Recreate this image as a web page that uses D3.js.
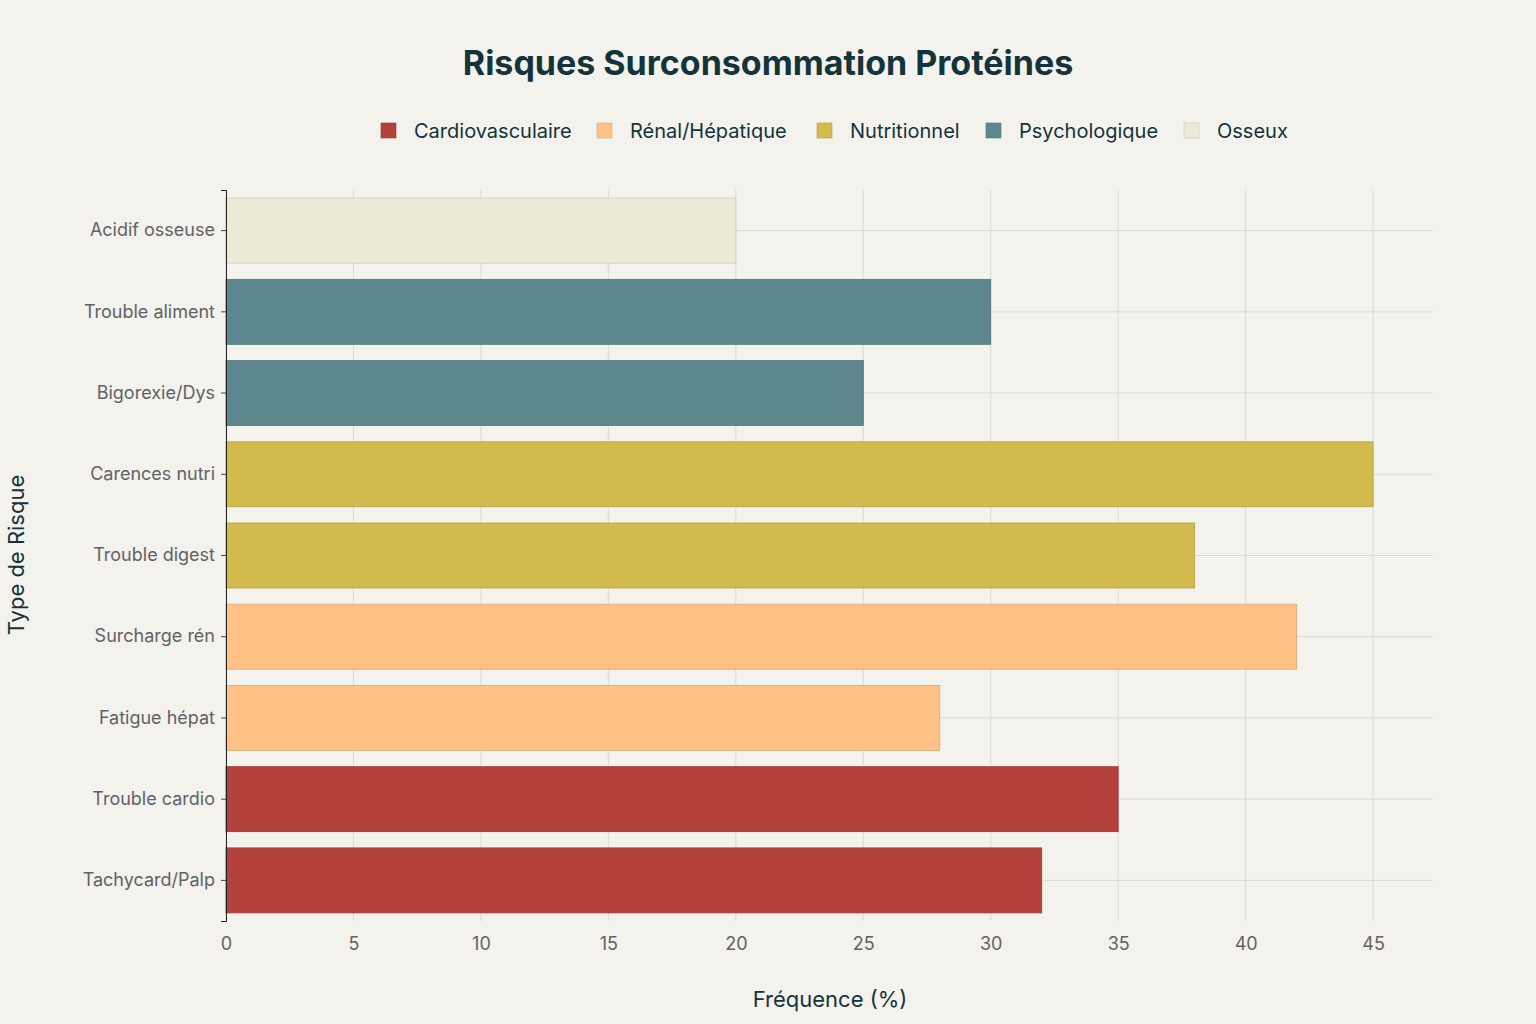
<!DOCTYPE html>
<html><head><meta charset="utf-8">
<script src="https://cdn.jsdelivr.net/npm/d3@7"></script>
<style>body{margin:0;background:#F3F2EC;}svg{display:block;font-family:Inter,"Noto Sans",sans-serif;}</style>
</head><body><svg width="1536" height="1024"></svg>
<script>
// data, bottom to top as in the picture
const categories = ["Tachycard/Palp","Trouble cardio","Fatigue hépat","Surcharge rén","Trouble digest","Carences nutri","Bigorexie/Dys","Trouble aliment","Acidif osseuse"];
const values = [32,35,28,42,38,45,25,30,20];
const groups = ["Cardiovasculaire","Cardiovasculaire","Rénal/Hépatique","Rénal/Hépatique","Nutritionnel","Nutritionnel","Psychologique","Psychologique","Osseux"];
const legendNames = ["Cardiovasculaire","Rénal/Hépatique","Nutritionnel","Psychologique","Osseux"];
const legendColors = ["#B4413C","#FFC185","#D2BA4C","#5D878F","#ECEBD5"];
const xTicks = [0,5,10,15,20,25,30,35,40,45];

var svg = d3.select("svg");
var plotLeft = 226, plotRight = 1433, plotTop = 190, plotBottom = 921;
var x = d3.scaleLinear().domain([0,47.35]).range([plotLeft,plotRight]);
var y = d3.scaleBand().domain(categories.slice().reverse()).range([plotTop,plotBottom]).paddingInner(0.2).paddingOuter(0.1);
var colour = d3.scaleOrdinal().domain(legendNames).range(legendColors);

//grid
svg.append("g").selectAll("line").data(xTicks).enter().append("line")
    .attr("x1",d=>x(d)).attr("x2",d=>x(d)).attr("y1",plotTop).attr("y2",plotBottom)
    .attr("stroke","#DADAD4").attr("stroke-width",1);
svg.append("g").selectAll("line").data(categories).enter().append("line")
    .attr("x1",plotLeft).attr("x2",plotRight)
    .attr("y1",d=>y(d)+y.bandwidth()/2).attr("y2",d=>y(d)+y.bandwidth()/2)
    .attr("stroke","#DADAD4").attr("stroke-width",1);

//bars
svg.append("g").selectAll("rect").data(categories).enter().append("rect")
    .attr("x",x(0)).attr("y",d=>y(d))
    .attr("width",(d,i)=>x(values[i])-x(0)).attr("height",y.bandwidth())
    .attr("fill",(d,i)=>colour(groups[i]))
    .attr("stroke",(d,i)=>d3.color(colour(groups[i])).darker(0.4)).attr("stroke-width",0.8);

//axes
var xa = svg.append("g").attr("transform","translate(0,"+plotBottom+")")
    .call(d3.axisBottom(x).tickValues(xTicks).tickSize(0).tickPadding(16));
xa.select(".domain").remove();
xa.selectAll("text").attr("font-size",18).attr("fill","#5f6366").attr("font-family","Inter,sans-serif");
var ya = svg.append("g").attr("transform","translate("+plotLeft+",0)")
    .call(d3.axisLeft(y).tickSize(5).tickPadding(6));
ya.select(".domain").attr("stroke","#222");
ya.selectAll(".tick line").attr("stroke","#444");
ya.selectAll("text").attr("font-size",18).attr("fill","#5f6366").attr("font-family","Inter,sans-serif");

//titles
svg.append("text").attr("x",768).attr("y",75).attr("text-anchor","middle")
    .attr("font-size",34).attr("font-weight","bold").attr("fill","#13343B").text("Risques Surconsommation Protéines");
svg.append("text").attr("x",830).attr("y",1007).attr("text-anchor","middle")
    .attr("font-size",22).attr("fill","#13343B").text("Fréquence (%)");
svg.append("text").attr("transform","translate(24,555) rotate(-90)").attr("text-anchor","middle")
    .attr("font-size",22).attr("fill","#13343B").text("Type de Risque");

//legend
var legX = [381,597,817,986,1184];
var leg = svg.append("g").selectAll("g").data(legendNames).enter().append("g")
    .attr("transform",(d,i)=>"translate("+legX[i]+",131)");
leg.append("rect").attr("x",0).attr("y",-8).attr("width",15).attr("height",15)
    .attr("fill",d=>colour(d)).attr("stroke",d=>d3.color(colour(d)).darker(0.4)).attr("stroke-width",0.6);
leg.append("text").attr("x",33).attr("y",7).attr("font-size",20).attr("fill","#13343B").text(d=>d);
</script></body></html>
